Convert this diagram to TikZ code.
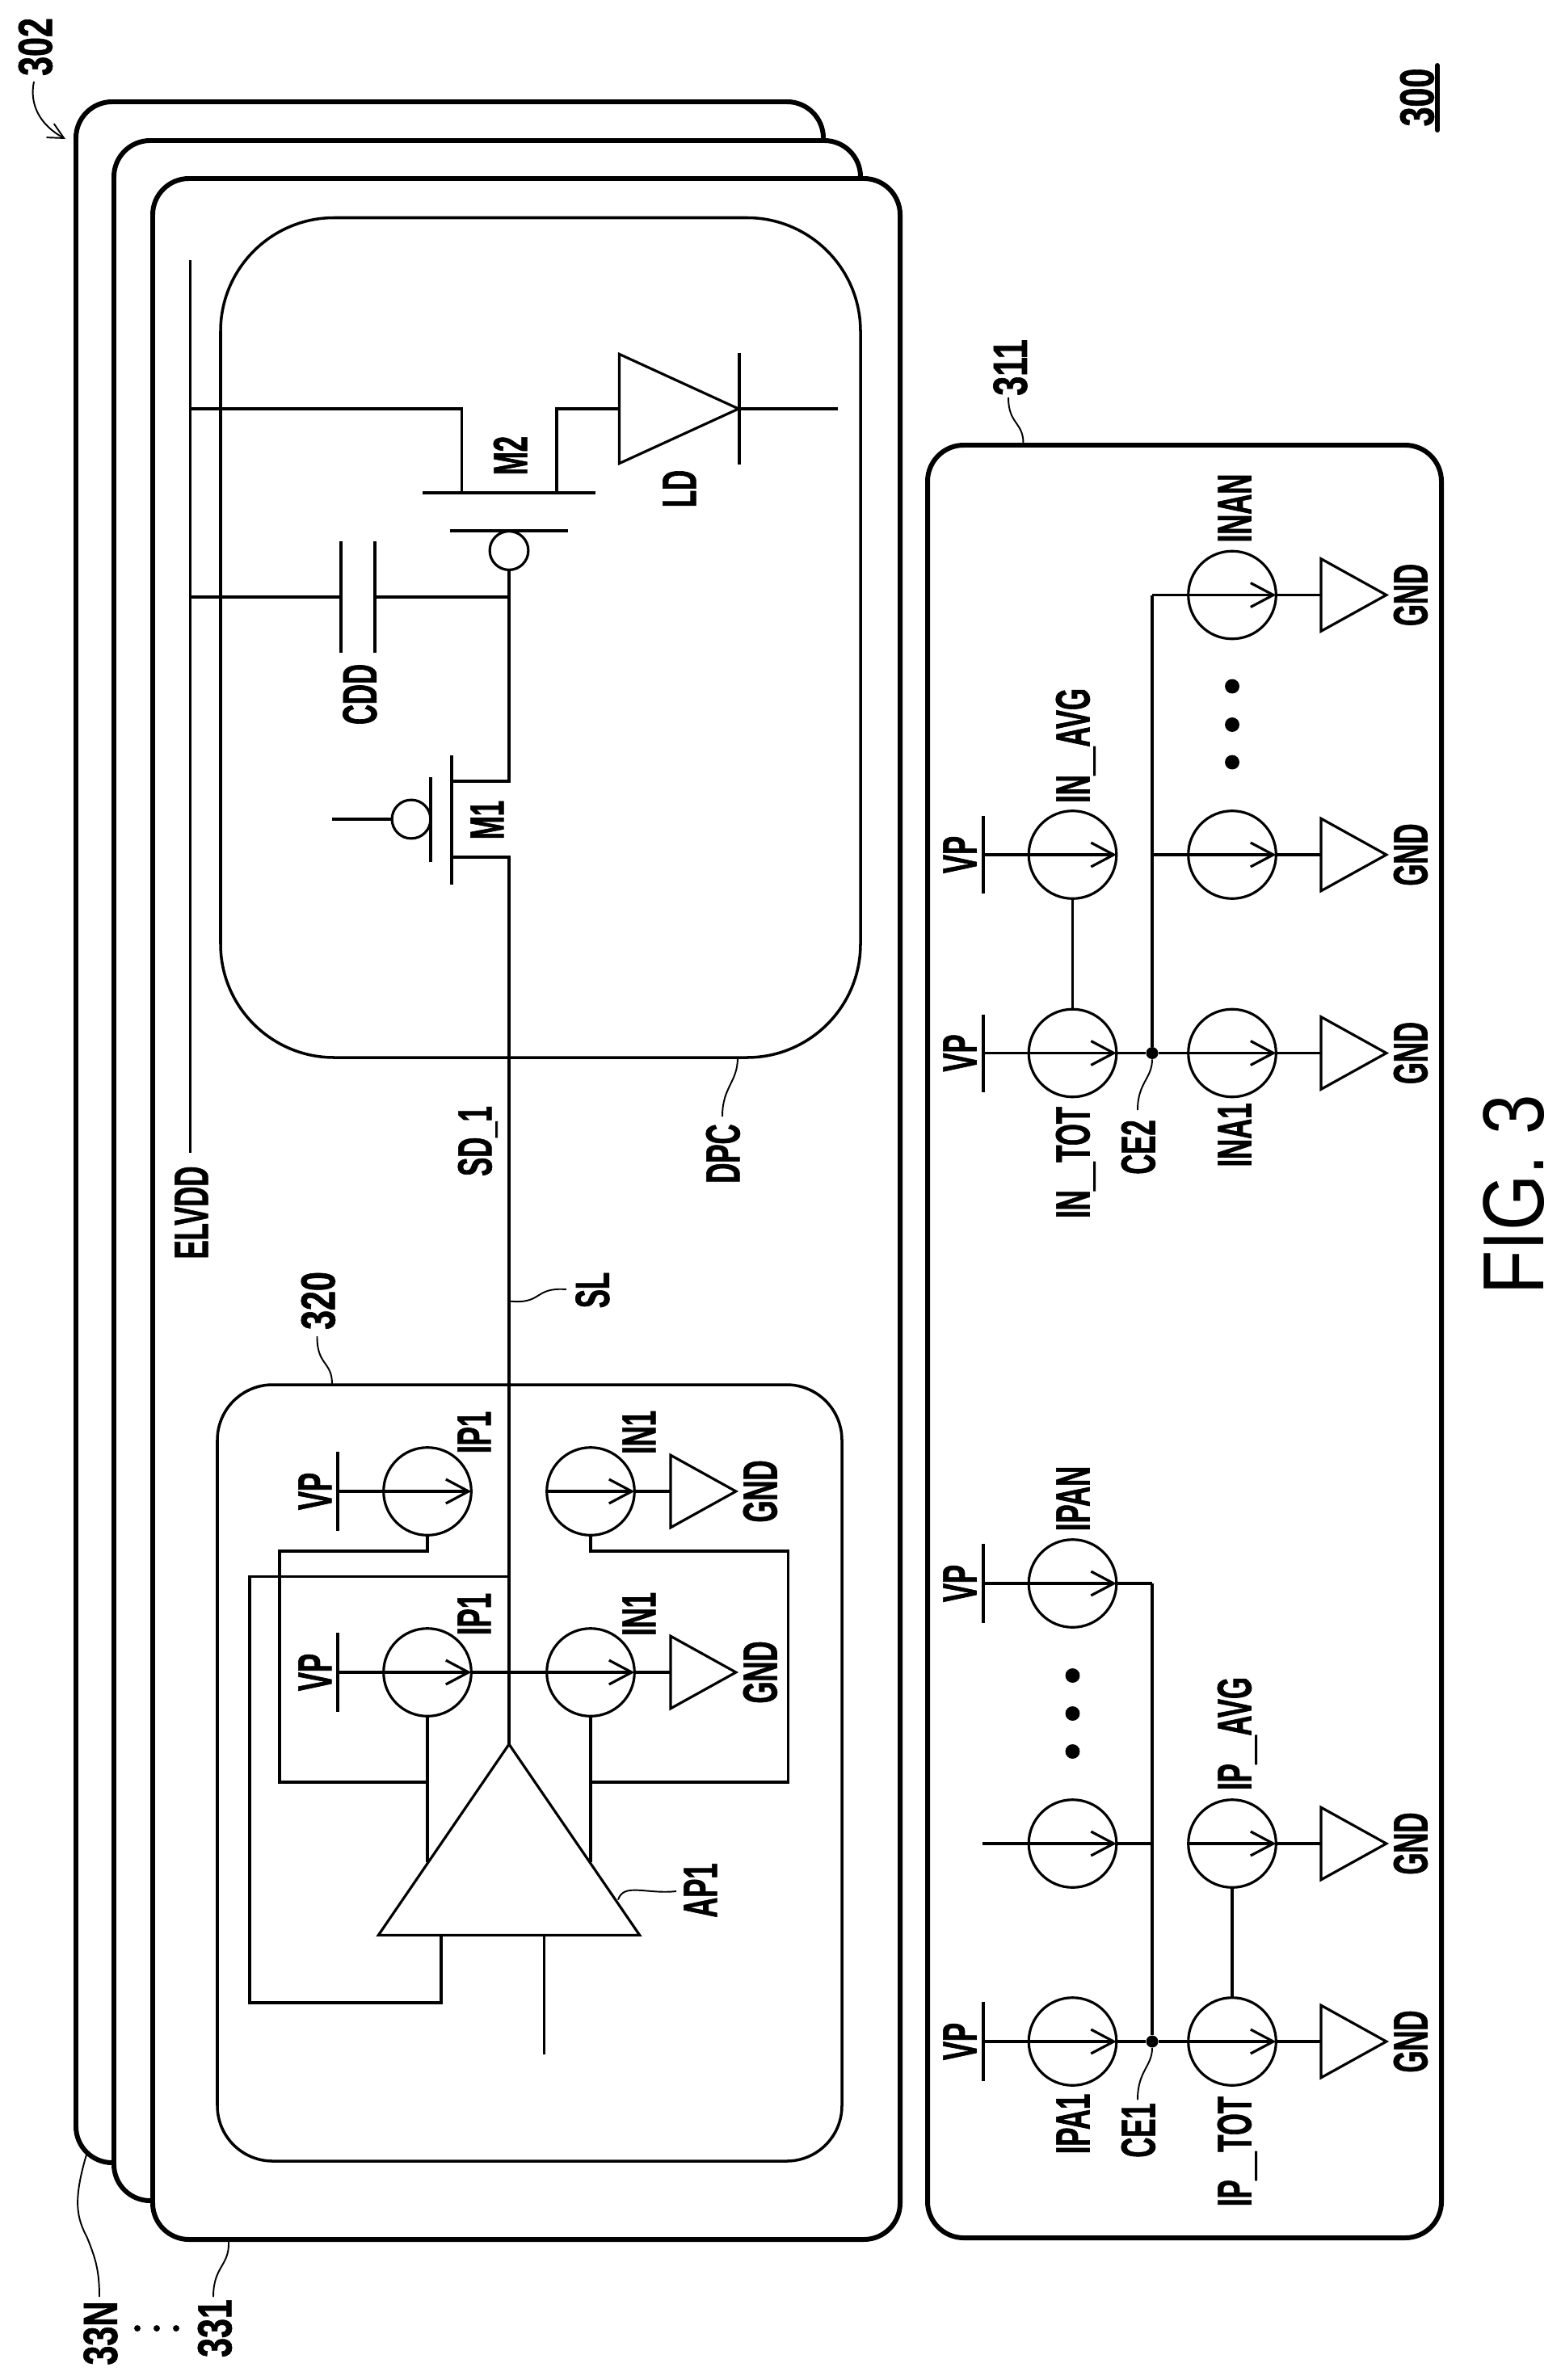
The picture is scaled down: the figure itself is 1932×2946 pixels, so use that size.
\documentclass[tikz,border=0pt]{standalone}
\usepackage{fontspec}
\usetikzlibrary{arrows.meta}
\usetikzlibrary{shapes.geometric}
\newfontfamily\lblfont[FakeStretch=0.58,FakeBold=1]{Liberation Sans}
\newfontfamily\reffont[FakeStretch=0.72,FakeBold=1]{Liberation Sans}
\newfontfamily\figfont[FakeStretch=0.83]{Liberation Sans}
\newcommand{\wideus}{\scalebox{1.8}[1]{\_}}
\tikzset{
  panel/.style={line width=3.4pt,fill=white,rounded corners=25.5pt},
  inner box/.style={line width=2pt},
  wire/.style={line width=1.8pt},
  leader/.style={line width=1.1pt},
  heavy/.style={line width=2.1pt},
  lbl/.style={rotate=90,inner sep=0pt,text height=24.4pt,text depth=0pt,font=\lblfont\bfseries\fontsize{34}{34}\selectfont},
  reflbl/.style={rotate=90,inner sep=0pt,text height=24.4pt,text depth=0pt,font=\reffont\bfseries\fontsize{34}{34}\selectfont},
  csrc/.style={circle,draw,wire,inner sep=0pt,outer sep=0pt,minimum size=61.8pt},
  bubble/.style={circle,draw,wire,inner sep=0pt,outer sep=0pt,minimum size=27.2pt},
  gndtri/.style={isosceles triangle,isosceles triangle stretches,draw,wire,inner sep=0pt,outer sep=0pt,anchor=lower side,minimum height=46pt,minimum width=51pt},
  dot/.style={circle,fill=black,inner sep=0pt,minimum size=#1},
  srcarrow/.style={-{Straight Barb[length=16pt,width=17pt]}},
}
\begin{document}
\begin{tikzpicture}[x=0.02cm,y=-0.02cm]
      \useasboundingbox (0,0) rectangle (1932,2946);
      % stacked panels
      \draw[panel] (94,126) rectangle (1019,2677);
      \draw[panel] (141,174) rectangle (1065,2724);
      \draw[panel] (189,221) rectangle (1114,2772);
      \draw[panel] (1148,551) rectangle (1784,2770);
      \draw[inner box,rounded corners=80pt] (273,269.5) rectangle (1065,1309);
      \draw[inner box,rounded corners=39pt] (269,1714) rectangle (1042,2675);

      % pixel circuit
      \coordinate (vddtop) at (235.5,322);
      \coordinate (vddend) at (235.5,1427);
      \coordinate (vddm2) at (235.5,506);
      \coordinate (vddc) at (235.5,739);
      \draw[wire] (vddtop) -- (vddend);
      \coordinate (m2s) at (571.5,610);
      \coordinate (m2d) at (689,610);
      \coordinate (ldin) at (766.5,506);
      \coordinate (ldk) at (915,506);
      \coordinate (ldend) at (1036.7,506);
      \draw[wire] (vddm2) -| (m2s);
      \draw[wire] (523,610) -- (737,610);
      \draw[wire] (557,657) -- (703,657);
      \draw[wire] (m2d) |- (ldin);
      \node[isosceles triangle,isosceles triangle stretches,draw,wire,inner sep=0pt,outer sep=0pt,anchor=lower side,minimum height=84pt,minimum width=77pt] (ld) at (ldin) {};
      \draw[wire] (ldk) -- (ldend);
      \draw[wire] (915,437) -- (915,575);
      \node[bubble] (bm2) at (630,681.5) {};
      \coordinate (gate) at (630,739);
      \coordinate (capa) at (422,739);
      \coordinate (capb) at (464,739);
      \draw[wire] (vddc) -- (capa);
      \draw[wire] (capa |- 0,670) -- (capa |- 0,807.5);
      \draw[wire] (capb |- 0,670) -- (capb |- 0,807.5);
      \draw[wire] (capb) -- (gate);
      \coordinate (m1a) at (559,967);
      \coordinate (m1b) at (559,1061);
      \draw[wire] (bm2.south) -- (630,967) -- (m1a);
      \draw[wire] (559,935) -- (559,1094.5);
      \draw[wire] (533,962) -- (533,1067);
      \node[bubble] (bm1) at (509,1014) {};
      \coordinate (m1in) at (411,1014);
      \draw[wire] (m1in) -- (bm1.west);

      % source line and amplifier
      \coordinate (sl) at (630,1061);
      \node[isosceles triangle,isosceles triangle stretches,shape border rotate=90,draw,wire,inner sep=0pt,outer sep=0pt,anchor=apex,minimum height=134.5pt,minimum width=184pt] (ap1) at (630,2159) {};
      \draw[heavy] (m1b) -- (sl) -- (ap1.apex);
      \coordinate (fbtap) at (630,1951.5);
      \coordinate (apin) at (546,2394);
      \draw[heavy] (fbtap) -- (309,1951.5) -- (309,2479) -- (546,2479) -- (apin);
      \coordinate (apbias) at (673.5,2394);
      \coordinate (apbiasend) at (673.5,2543);
      \draw[wire] (apbias) -- (apbiasend);

      \node[csrc] (ipu) at (529,1846) {};
      \node[csrc] (ipl) at (529,2070) {};
      \node[csrc] (inu) at (731,1846) {};
      \node[csrc] (inl) at (731,2070) {};
      \coordinate (vpu) at (418,1846);
      \coordinate (vpl) at (418,2070);
      \draw[wire] (vpu) ++(0,-49) -- ++(0,98);
      \draw[wire] (vpl) ++(0,-49) -- ++(0,98);
      \node[gndtri] (gu) at (830,1846) {};
      \node[gndtri] (gl) at (830,2070) {};
      \draw[wire,srcarrow] (vpu) -- (ipu.east);
      \draw[wire,srcarrow] (vpl) -- (ipl.east);
      \draw[wire,srcarrow] (ipl.east) -- (inl.east);
      \draw[wire,srcarrow] (inu.west) -- (inu.east);
      \draw[wire] (inu.east) -- (gu.lower side);
      \draw[wire] (inl.east) -- (gl.lower side);
      \coordinate (apl) at (529,2305);
      \coordinate (apr) at (731,2305);
      \coordinate (fbl) at (529,2206);
      \coordinate (fbr) at (731,2206);
      \draw[wire] (ipl.south) -- (apl);
      \draw[wire] (inl.south) -- (apr);
      \draw[wire] (ipu.south) -- (529,1920) -- (346,1920) -- (346,2206) -- (fbl);
      \draw[wire] (inu.south) -- (731,1920) -- (975.5,1920) -- (975.5,2206) -- (fbr);

      % current mirrors for the negative side
      \node[csrc] (intot) at (1327.5,1303.5) {};
      \node[csrc] (inavg) at (1327.5,1058) {};
      \node[csrc] (ina1) at (1525,1303.5) {};
      \node[csrc] (inax) at (1525,1058) {};
      \node[csrc] (inan) at (1525,736.5) {};
      \node[gndtri] (gn1) at (1635,1303.5) {};
      \node[gndtri] (gnx) at (1635,1058) {};
      \node[gndtri] (gnn) at (1635,736.5) {};
      \node[dot=8.5pt] (ce2) at (1426,1303.5) {};
      \coordinate (vpa) at (1217,1303.5);
      \coordinate (vpb) at (1217,1058);
      \coordinate (busx) at (1426,1058);
      \coordinate (busn) at (1426,736.5);
      \draw[wire] (vpa) ++(0,-48) -- ++(0,96);
      \draw[wire] (vpb) ++(0,-48) -- ++(0,96);
      \draw[wire,srcarrow] (vpa) -- (intot.east);
      \draw[wire,srcarrow] (vpb) -- (inavg.east);
      \draw[wire] (intot.east) -- (ce2);
      \draw[wire,srcarrow] (ce2) -- (ina1.east);
      \draw[wire,srcarrow] (busx) -- (inax.east);
      \draw[wire,srcarrow] (busn) -- (inan.east);
      \draw[wire] (ina1.east) -- (gn1.lower side);
      \draw[wire] (inax.east) -- (gnx.lower side);
      \draw[wire] (inan.east) -- (gnn.lower side);
      \draw[wire] (ce2) -- (busn);
      \draw[wire] (intot.north) -- (inavg.south);
      \node[dot=10.2pt] (dn1) at (1525,849.5) {};
      \node[dot=10.2pt] (dn2) at (1525,897) {};
      \node[dot=10.2pt] (dn3) at (1525,943.5) {};

      % current mirrors for the positive side
      \node[csrc] (ipa1) at (1327.5,2527) {};
      \node[csrc] (ipax) at (1327.5,2282) {};
      \node[csrc] (ipan) at (1327.5,1960) {};
      \node[csrc] (iptot) at (1525,2527) {};
      \node[csrc] (ipavg) at (1525,2282) {};
      \node[gndtri] (gp1) at (1635,2527) {};
      \node[gndtri] (gpa) at (1635,2282) {};
      \node[dot=8.5pt] (ce1) at (1426,2527) {};
      \coordinate (vpc) at (1217,2527);
      \coordinate (vpd) at (1216,2282);
      \coordinate (vpe) at (1217,1960);
      \coordinate (busy) at (1426,2282);
      \coordinate (busp) at (1426,1960);
      \draw[wire] (vpc) ++(0,-49) -- ++(0,98);
      \draw[wire] (vpe) ++(0,-49) -- ++(0,98);
      \draw[wire,srcarrow] (vpc) -- (ipa1.east);
      \draw[wire,srcarrow] (vpd) -- (ipax.east);
      \draw[wire,srcarrow] (vpe) -- (ipan.east);
      \draw[wire] (ipa1.east) -- (ce1);
      \draw[wire] (ipax.east) -- (busy);
      \draw[wire] (ipan.east) -- (busp);
      \draw[wire,srcarrow] (ce1) -- (iptot.east);
      \draw[wire,srcarrow] (ipavg.west) -- (ipavg.east);
      \draw[wire] (iptot.east) -- (gp1.lower side);
      \draw[wire] (ipavg.east) -- (gpa.lower side);
      \draw[wire] (ce1) -- (busp);
      \draw[wire] (iptot.north) -- (ipavg.south);
      \node[dot=10.2pt] (dp1) at (1327.5,2074) {};
      \node[dot=10.2pt] (dp2) at (1327.5,2121) {};
      \node[dot=10.2pt] (dp3) at (1327.5,2168) {};

      % labels
      \node[reflbl] (l302) at (43,58) {302};
      \node[reflbl] (l300) at (1753,120.5) {300};
      \node[reflbl] (l311) at (1249.5,455) {311};
      \node[reflbl] (l320) at (393,1610) {320};
      \node[reflbl] (l33n) at (123.5,2888) {33N};
      \node[reflbl] (l331) at (265,2882) {331};
      \node[dot=4.5pt] (d1) at (170,2882) {};
      \node[dot=4.5pt] (d2) at (194,2882) {};
      \node[dot=4.5pt] (d3) at (218,2882) {};
      \coordinate (ulta) at (1779,81);
      \coordinate (ultb) at (1779,161);
      \draw[line width=3.4pt,line cap=round] (ulta) -- (ultb);
      \node[lbl] (lm2) at (631,564) {M2};
      \node[lbl] (lm1) at (602,1015) {M1};
      \node[lbl] (lcdd) at (444.5,859.5) {CDD};
      \node[lbl] (lld) at (840,605) {LD};
      \node[lbl] (lel) at (236,1501) {ELVDD};
      \node[lbl] (lsd) at (587,1412.5) {SD\_1};
      \node[lbl] (ldpc) at (894,1428) {DPC};
      \node[lbl] (lsl) at (732.5,1597) {SL};
      \node[lbl] (lipu) at (586,1773) {IP1};
      \node[lbl] (lipl) at (586,1998) {IP1};
      \node[lbl] (linu) at (790,1773) {IN1};
      \node[lbl] (linl) at (790,1998) {IN1};
      \node[lbl] (lvpu) at (389,1846) {VP};
      \node[lbl] (lvpl) at (389,2070) {VP};
      \node[lbl] (lgu) at (940,1846) {GND};
      \node[lbl] (lgl) at (940,2070) {GND};
      \node[lbl] (lap) at (866,2340) {AP1};
      \node[lbl] (lvpa) at (1187,1303.5) {VP};
      \node[lbl] (lvpb) at (1187,1058) {VP};
      \node[lbl] (lvpc) at (1187,2527) {VP};
      \node[lbl] (lvpe) at (1187,1960) {VP};
      \node[lbl] (lintot) at (1327,1439) {IN\wideus TOT};
      \node[lbl] (linavg) at (1327,923) {IN\wideus AVG};
      \node[lbl] (lce2) at (1408,1420) {CE2};
      \node[lbl] (lina1) at (1527,1405) {INA1};
      \node[lbl] (linan) at (1527,629) {INAN};
      \node[lbl] (lgn1) at (1745,1303.5) {GND};
      \node[lbl] (lgnx) at (1745,1058) {GND};
      \node[lbl] (lgnn) at (1745,736.5) {GND};
      \node[lbl] (lipa1) at (1327,2629) {IPA1};
      \node[lbl] (lipan) at (1327,1855) {IPAN};
      \node[lbl] (lce1) at (1408,2637) {CE1};
      \node[lbl] (liptot) at (1527,2663) {IP\wideus TOT};
      \node[lbl] (lipavg) at (1527,2146) {IP\wideus AVG};
      \node[lbl] (lgp1) at (1745,2527) {GND};
      \node[lbl] (lgpa) at (1745,2282) {GND};
      \node[rotate=90,inner sep=0pt,text height=43.6pt,text depth=0pt,font=\figfont\fontsize{61}{61}\selectfont] (lfig) at (1872.5,1479) {FIG. 3};

      % leaders
      \coordinate (a302) at (42,101);
      \coordinate (b302) at (81,172);
      \draw[leader,-{Straight Barb[length=11pt,width=11pt]}] (a302) .. controls (36,130) and (50,155) .. (b302);
      \coordinate (a33n) at (107,2667);
      \coordinate (b33n) at (123,2843);
      \draw[leader] (a33n) .. controls (90,2725) and (95,2745) .. (108,2770) .. controls (118,2795) and (123,2810) .. (b33n);
      \coordinate (a331) at (283,2775);
      \coordinate (b331) at (264,2843);
      \draw[leader] (a331) .. controls (284,2805) and (264,2805) .. (b331);
      \coordinate (a320) at (411,1713);
      \coordinate (b320) at (392.5,1654);
      \draw[leader] (a320) .. controls (411,1685) and (392,1690) .. (b320);
      \coordinate (a311) at (1266.5,548);
      \coordinate (b311) at (1248,492);
      \draw[leader] (a311) .. controls (1266,522) and (1248,525) .. (b311);
      \coordinate (adpc) at (913,1309);
      \coordinate (bdpc) at (894,1382);
      \draw[leader] (adpc) .. controls (913,1340) and (894,1345) .. (bdpc);
      \coordinate (asl) at (630,1610.5);
      \coordinate (bsl) at (701,1596);
      \draw[leader] (asl) .. controls (672,1615) and (660,1593) .. (bsl);
      \coordinate (aap) at (765,2351.5);
      \coordinate (bap) at (837,2341);
      \draw[leader] (aap) .. controls (772,2330) and (800,2345) .. (bap);
      \coordinate (ece2) at (1408,1374);
      \coordinate (ece1) at (1408,2599);
      \draw[leader] (ce2) .. controls (1426,1335) and (1408,1340) .. (ece2);
      \draw[leader] (ce1) .. controls (1426,2558) and (1408,2563) .. (ece1);
    \end{tikzpicture}
\end{document}
